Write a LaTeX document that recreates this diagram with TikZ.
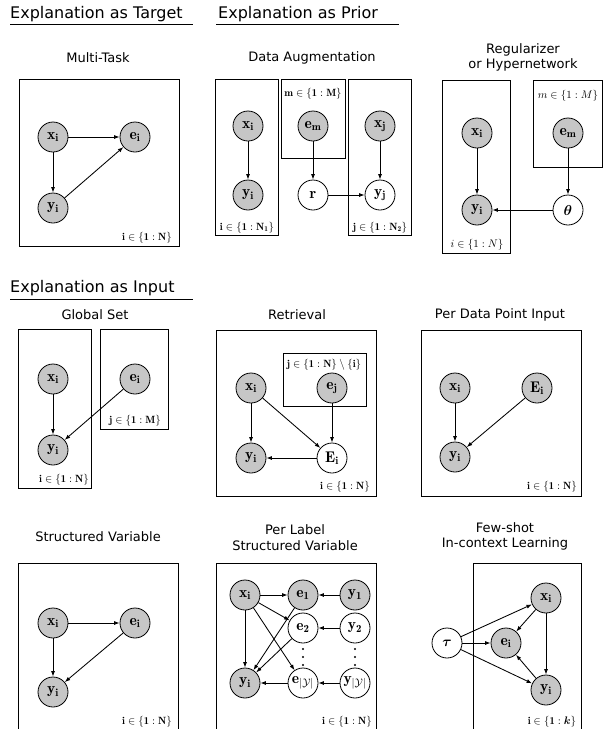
\documentclass[tikz,border=0pt]{standalone}
\usepackage{fontspec}
\usepackage{bm}
\usetikzlibrary{arrows.meta}
\newfontfamily\dvsans{DejaVu Sans}
\begin{document}
\begin{tikzpicture}[x=1pt,y=-1pt,
  obs/.style={circle, draw, fill=gray!45, minimum size=30pt, inner sep=0pt, line width=0.8pt, font=\fontsize{15.5}{17}\selectfont},
  lat/.style={obs, fill=white},
  edge/.style={-{Latex[length=5.5pt,width=4pt]}, line width=0.85pt},
  plate/.style={draw, line width=0.8pt},
  sec/.style={font=\dvsans\fontsize{16}{18}\selectfont, anchor=base west, inner sep=0pt},
  sub/.style={font=\dvsans\fontsize{13}{15.5}\selectfont, align=center, inner sep=0pt},
  plab/.style={font=\fontsize{10.5}{12}\selectfont, anchor=base, inner sep=0pt}]
\useasboundingbox (0,0) rectangle (609,729);
\clip (0,0) rectangle (609,729);

% section titles
\node[sec] (tTarget) at (10,18) {Explanation as Target};
\draw[line width=0.8pt] (10,24) -- (193,24);
\node[sec] (tPrior) at (218,18) {Explanation as Prior};
\draw[line width=0.8pt] (216,24) -- (399,24);
\node[sec] (tInput) at (10,292) {Explanation as Input};
\draw[line width=0.8pt] (10,299) -- (193,299);

% ---------- Multi-Task
\node[sub] (sMT) at (98,58) {Multi-Task};
\draw[plate] (19,79) rectangle (179,246);
\node[obs] (mtx) at (53,137) {$\mathbf{x_i}$};
\node[obs] (mte) at (135,137) {$\mathbf{e_i}$};
\node[obs] (mty) at (53,208) {$\mathbf{y_i}$};
\node[plab] (mtl) at (147,240) {$\mathbf{i\in\{1:N\}}$};
\draw[edge] (mtx) -- (mte);
\draw[edge] (mtx) -- (mty);
\draw[edge] (mty) -- (mte);

% ---------- Data Augmentation
\node[sub] (sDA) at (312,58) {Data Augmentation};
\draw[plate] (215,79) rectangle (278,235);
\draw[plate] (281,79) rectangle (345,158);
\draw[plate] (348,79) rectangle (411,235);
\node[obs] (dax) at (248,126) {$\mathbf{x_i}$};
\node[obs] (day) at (248,195) {$\mathbf{y_i}$};
\node[obs] (dae) at (313,126) {$\mathbf{e_m}$};
\node[lat] (dar) at (313,195) {$\mathbf{r}$};
\node[obs] (daxj) at (380,126) {$\mathbf{x_j}$};
\node[lat] (dayj) at (380,195) {$\mathbf{y_j}$};
\node[plab] (dal1) at (313,96) {$\mathbf{m\in\{1:M\}}$};
\node[plab] (dal2) at (247,230) {$\mathbf{i\in\{1:N_1\}}$};
\node[plab] (dal3) at (380,230) {$\mathbf{j\in\{1:N_2\}}$};
\draw[edge] (dax) -- (day);
\draw[edge] (dae) -- (dar);
\draw[edge] (dar) -- (dayj);
\draw[edge] (daxj) -- (dayj);

% ---------- Regularizer
\node[sub] (sRG) at (523,57.5) {Regularizer\\or Hypernetwork};
\draw[plate] (442,80) rectangle (510,253);
\draw[plate] (533,80) rectangle (602,167);
\node[obs] (rgx) at (477,133) {$\mathbf{x_i}$};
\node[obs] (rgy) at (477,210) {$\mathbf{y_i}$};
\node[obs] (rge) at (568,133) {$\mathbf{e_m}$};
\node[lat] (rgt) at (568,210) {$\bm{\theta}$};
\node[plab] (rgl1) at (568,98) {$m\in\{1:M\}$};
\node[plab] (rgl2) at (477,247) {$i\in\{1:N\}$};
\draw[edge] (rgx) -- (rgy);
\draw[edge] (rge) -- (rgt);
\draw[edge] (rgt) -- (rgy);

% ---------- Global Set
\node[sub] (sGS) at (95,315) {Global Set};
\draw[plate] (18,329) rectangle (91,488);
\draw[plate] (100,329) rectangle (168,429);
\node[obs] (gsx) at (53,379) {$\mathbf{x_i}$};
\node[obs] (gsy) at (53,450) {$\mathbf{y_i}$};
\node[obs] (gse) at (135,379) {$\mathbf{e_i}$};
\node[plab] (gsl1) at (135,423) {$\mathbf{j\in\{1:M\}}$};
\node[plab] (gsl2) at (64,482) {$\mathbf{i\in\{1:N\}}$};
\draw[edge] (gsx) -- (gsy);
\draw[edge] (gse) -- (gsy);

% ---------- Retrieval
\node[sub] (sRT) at (297,315) {Retrieval};
\draw[plate] (216,330) rectangle (376,496);
\draw[plate] (283,353) rectangle (366,406);
\node[obs] (rtx) at (251,388) {$\mathbf{x_i}$};
\node[obs] (rte) at (332,388) {$\mathbf{e_j}$};
\node[obs] (rty) at (251,458) {$\mathbf{y_i}$};
\node[lat] (rtE) at (332,458) {$\mathbf{E_i}$};
\node[plab] (rtl1) at (324,367) {$\mathbf{j\in\{1:N\}\setminus\{i\}}$};
\node[plab] (rtl2) at (345,489) {$\mathbf{i\in\{1:N\}}$};
\draw[edge] (rtx) -- (rty);
\draw[edge] (rtx) -- (rtE);
\draw[edge] (rte) -- (rtE);
\draw[edge] (rtE) -- (rty);

% ---------- Per Data Point Input
\node[sub] (sPD) at (500,315) {Per Data Point Input};
\draw[plate] (421,330) rectangle (581,496);
\node[obs] (pdx) at (455,388) {$\mathbf{x_i}$};
\node[obs] (pdE) at (537,388) {$\mathbf{E_i}$};
\node[obs] (pdy) at (455,457) {$\mathbf{y_i}$};
\node[plab] (pdl) at (552,489) {$\mathbf{i\in\{1:N\}}$};
\draw[edge] (pdx) -- (pdy);
\draw[edge] (pdE) -- (pdy);

% ---------- Structured Variable
\node[sub] (sSV) at (98,537) {Structured Variable};
\draw[plate] (18,563) rectangle (178,735);
\node[obs] (svx) at (53,623) {$\mathbf{x_i}$};
\node[obs] (sve) at (135,623) {$\mathbf{e_i}$};
\node[obs] (svy) at (53,692) {$\mathbf{y_i}$};
\node[plab] (svl) at (147,724) {$\mathbf{i\in\{1:N\}}$};
\draw[edge] (svx) -- (sve);
\draw[edge] (svx) -- (svy);
\draw[edge] (sve) -- (svy);

% ---------- Per Label Structured Variable
\node[sub] (sPL) at (295,537.5) {Per Label\\Structured Variable};
\draw[plate] (216,563) rectangle (376,735);
\node[obs] (plx) at (245,595) {$\mathbf{x_i}$};
\node[obs] (ple1) at (303,595) {$\mathbf{e_1}$};
\node[obs] (ply1) at (355,595) {$\mathbf{y_1}$};
\node[lat] (ple2) at (303,628) {$\mathbf{e_2}$};
\node[lat] (ply2) at (355,628) {$\mathbf{y_2}$};
\node[obs] (ply) at (245,683) {$\mathbf{y_i}$};
\node[lat] (pleY) at (303,683) {$\mathbf{e}_{|\mathcal{Y}|}$};
\node[lat] (plyY) at (355,683) {$\mathbf{y}_{|\mathcal{Y}|}$};
\foreach \yy in {649,657,665} {
  \fill (303,\yy) circle (1.1pt);
  \fill (355,\yy) circle (1.1pt);
}
\node[plab] (pll) at (347,724) {$\mathbf{i\in\{1:N\}}$};
\draw[edge] (plx) -- (ple1);
\draw[edge] (ply1) -- (ple1);
\draw[edge] (ply2) -- (ple2);
\draw[edge] (plyY) -- (pleY);
\draw[edge] (pleY) -- (ply);
\draw[edge] (plx) -- (ply);
\draw[edge] (plx) -- (ple2);
\draw[edge] (plx) -- (pleY);
\draw[edge] (ple1) -- (ply);
\draw[edge] (ple2) -- (ply);

% ---------- Few-shot
\node[sub] (sFS) at (505,536.5) {Few-shot\\In-context Learning};
\draw[plate] (473,563) rectangle (581,735);
\node[lat] (fst) at (447,643) {$\bm{\tau}$};
\node[obs] (fse) at (506,643) {$\mathbf{e_i}$};
\node[obs] (fsx) at (546,598) {$\mathbf{x_i}$};
\node[obs] (fsy) at (546,690) {$\mathbf{y_i}$};
\node[plab] (fsl) at (552,724) {$\mathbf{i}\in\{\mathbf{1}:\bm{k}\}$};
\draw[edge] (fst) -- (fsx);
\draw[edge] (fst) -- (fse);
\draw[edge] (fst) -- (fsy);
\draw[edge] (fsx) -- (fse);
\draw[edge] (fsy) -- (fse);
\draw[edge] (fsx) -- (fsy);
\end{tikzpicture}
\end{document}
